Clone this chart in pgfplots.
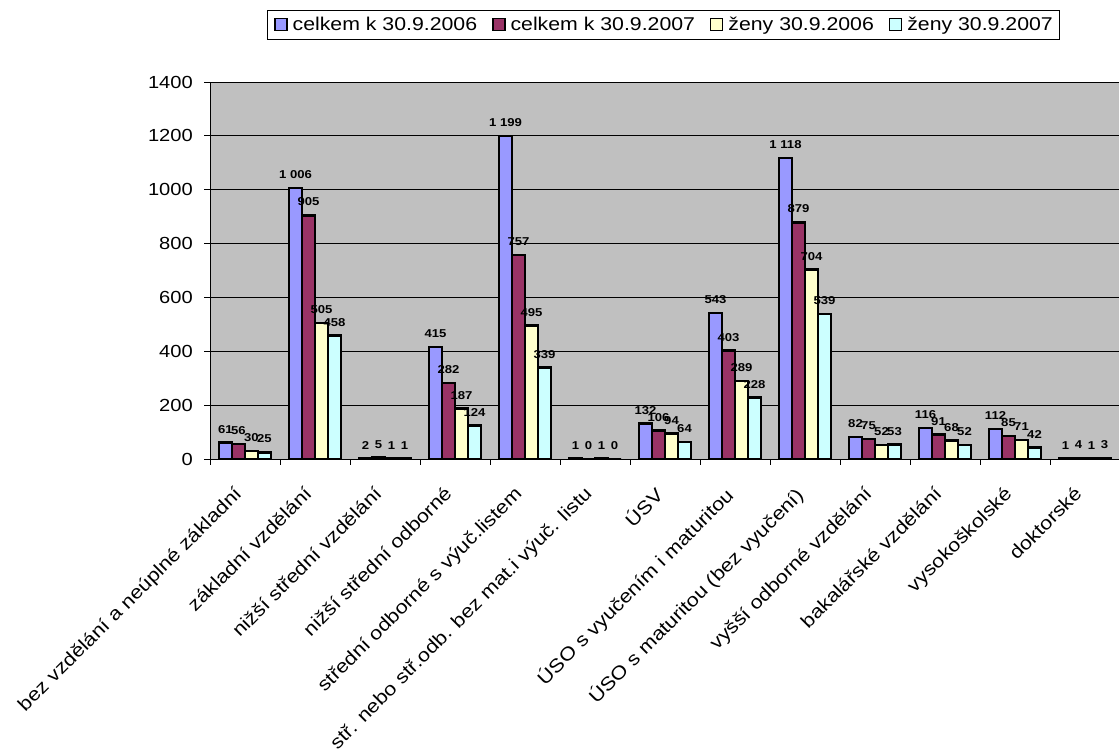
\documentclass[border=0pt]{standalone}
\usepackage{fontspec}
\setmainfont{Liberation Sans}[FakeStretch=1.15]
\usepackage{pgfplots}
\pgfplotsset{compat=1.18}
\definecolor{cA}{HTML}{9999FF}
\definecolor{cB}{HTML}{993366}
\definecolor{cC}{HTML}{FFFFCC}
\definecolor{cD}{HTML}{CCFFFF}
\definecolor{bg}{HTML}{C0C0C0}
\begin{document}
\begin{tikzpicture}
\begin{axis}[
  at={(210pt,292pt)}, anchor=south west,
  scale only axis, width=910pt, height=377pt,
  xmin=-0.5, xmax=12.5, ymin=0, ymax=1400,
  ybar=0pt, bar width=13pt,
  axis background/.style={fill=bg, draw=gray},
  axis x line*=bottom, axis y line*=left,
  axis line style={black, line width=0.8pt},
  tick align=outside,
  major tick length=6pt, minor tick length=6pt,
  ytick={0,200,...,1400},
  xtick={-0.171,0.829,...,11.9},
  minor xtick={-0.5,0.5,...,12.5},
  major x tick style={draw=none},
  minor x tick style={black, line width=0.8pt},
  ytick style={black, line width=0.8pt},
  ymajorgrids, grid style={black, line width=0.8pt},
  /pgf/number format/assume math mode=true,
  yticklabel style={font=\fontsize{17.5}{20}\selectfont, inner sep=0pt, /pgf/number format/1000 sep={}},
  yticklabel shift=11pt,
  xticklabels={bez vzdělání a neúplné základní, základní vzdělání, nižší střední vzdělání, nižší střední odborné, střední odborné s výuč.listem, stř. nebo stř.odb. bez mat.i výuč. listu, ÚSV, ÚSO s vyučením i maturitou, ÚSO s maturitou (bez vyučení), vyšší odborné vzdělání, bakalářské vzdělání, vysokoškolské, doktorské},
  xticklabel style={font=\fontsize{18.7}{21}\selectfont, inner sep=0pt, rotate=45, anchor=north east},
  xticklabel shift=20pt,
  legend style={at={(0.4984,1.152)}, anchor=center, draw=black, fill=white, line width=0.8pt, legend columns=4, font=\fontsize{18.5}{20}\selectfont, inner xsep=7pt, inner ysep=7pt, nodes={inner sep=0pt}, /tikz/every odd column/.append style={column sep=5pt}, /tikz/every even column/.append style={column sep=15pt}},
  every axis plot/.append style={legend image code/.code={\draw[##1, line width=1.4pt] (0pt,-6pt) rectangle (12pt,6pt);}},
  nodes near coords,
  every node near coord/.append style={font=\bfseries\fontsize{11.4}{13}\selectfont, black, inner sep=0pt, yshift=8pt, anchor=south, /pgf/number format/1000 sep={\ }},
]
\addplot[fill=cA, draw=black, line width=2.5pt] coordinates {(0,61) (1,1006) (2,2) (3,415) (4,1199) (5,1) (6,132) (7,543) (8,1118) (9,82) (10,116) (11,112) (12,1)};
\addplot[fill=cB, draw=black, line width=2.5pt] coordinates {(0,56) (1,905) (2,5) (3,282) (4,757) (5,0) (6,106) (7,403) (8,879) (9,75) (10,91) (11,85) (12,4)};
\addplot[fill=cC, draw=black, line width=2.5pt] coordinates {(0,30) (1,505) (2,1) (3,187) (4,495) (5,1) (6,94) (7,289) (8,704) (9,52) (10,68) (11,71) (12,1)};
\addplot[fill=cD, draw=black, line width=2.5pt] coordinates {(0,25) (1,458) (2,1) (3,124) (4,339) (5,0) (6,64) (7,228) (8,539) (9,53) (10,52) (11,42) (12,3)};
\legend{celkem k 30.9.2006, celkem k 30.9.2007, ženy 30.9.2006, ženy 30.9.2007}
\end{axis}
\pgfresetboundingbox
\useasboundingbox (0,0) rectangle (1119pt,751pt);
\end{tikzpicture}
\end{document}
